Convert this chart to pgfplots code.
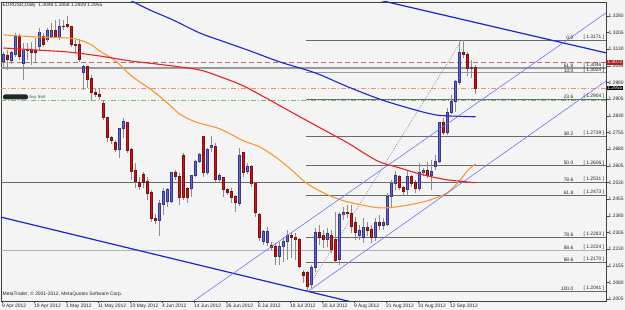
\documentclass[border=0pt]{standalone}
\usepackage{fontspec}
\setmainfont{Liberation Sans}
\usepackage{pgfplots}
\usepackage{pgfplotstable}
\pgfplotsset{compat=1.18}
\newcommand\ft{\fontsize{4.9}{5.5}\selectfont}
\definecolor{bgc}{RGB}{244,244,244}
\definecolor{bullc}{RGB}{100,100,225}
\definecolor{bullo}{RGB}{55,55,130}
\definecolor{bearc}{RGB}{230,10,10}
\definecolor{bearo}{RGB}{115,20,20}
\definecolor{wickc}{RGB}{140,140,140}
\definecolor{ma1}{RGB}{255,150,40}
\definecolor{ma2}{RGB}{235,35,35}
\definecolor{ma3}{RGB}{25,35,215}
\definecolor{chan}{RGB}{115,115,245}
\definecolor{fibc}{RGB}{105,105,105}
\definecolor{reddash}{RGB}{195,105,105}
\definecolor{orgdash}{RGB}{250,140,100}
\definecolor{grndash}{RGB}{110,190,110}
\definecolor{boxred}{RGB}{180,30,30}
\pgfplotsset{nomark/.style={only marks, mark=*, mark size=0pt, mark options={draw=none, fill=none}}}

\pgfplotstableread{
i o h l c
0 1.3073 1.3118 1.3046 1.3105
1 1.3100 1.3127 1.3037 1.3082
2 1.3078 1.3123 1.3064 1.3114
3 1.3105 1.3204 1.3096 1.3186
4 1.3186 1.3199 1.3082 1.3096
5 1.3064 1.3159 1.2992 1.3127
6 1.3127 1.3159 1.3082 1.3123
7 1.3127 1.3163 1.3060 1.3114
8 1.3127 1.3181 1.3069 1.3114
9 1.3141 1.3226 1.3127 1.3208
10 1.3186 1.3204 1.3141 1.3150
11 1.3172 1.3226 1.3163 1.3213
12 1.3186 1.3249 1.3181 1.3217
13 1.3217 1.3262 1.3181 1.3186
14 1.3181 1.3267 1.3172 1.3231
15 1.3235 1.3262 1.3217 1.3231
16 1.3240 1.3280 1.3226 1.3231
17 1.3231 1.3235 1.3141 1.3150
18 1.3150 1.3172 1.3114 1.3145
19 1.3150 1.3177 1.3073 1.3082
20 1.3024 1.3060 1.2947 1.3051
21 1.3051 1.3055 1.2956 1.2992
22 1.2997 1.3015 1.2902 1.2934
23 1.2934 1.2952 1.2916 1.2925
24 1.2925 1.2956 1.2902 1.2916
25 1.2884 1.2902 1.2812 1.2821
26 1.2821 1.2826 1.2713 1.2731
27 1.2731 1.2740 1.2704 1.2718
28 1.2709 1.2722 1.2668 1.2677
29 1.2677 1.2776 1.2641 1.2772
30 1.2772 1.2821 1.2731 1.2803
31 1.2799 1.2803 1.2664 1.2673
32 1.2677 1.2686 1.2542 1.2578
33 1.2583 1.2619 1.2506 1.2533
34 1.2529 1.2556 1.2497 1.2511
35 1.2565 1.2578 1.2506 1.2529
36 1.2533 1.2556 1.2452 1.2479
37 1.2484 1.2497 1.2353 1.2367
38 1.2367 1.2389 1.2344 1.2358
39 1.2358 1.2452 1.2290 1.2434
40 1.2430 1.2506 1.2385 1.2488
41 1.2443 1.2506 1.2421 1.2497
42 1.2443 1.2578 1.2439 1.2574
43 1.2574 1.2587 1.2542 1.2556
44 1.2556 1.2574 1.2430 1.2461
45 1.2650 1.2664 1.2452 1.2461
46 1.2502 1.2511 1.2439 1.2461
47 1.2502 1.2565 1.2466 1.2560
48 1.2560 1.2632 1.2556 1.2623
49 1.2623 1.2664 1.2619 1.2655
50 1.2736 1.2740 1.2556 1.2574
51 1.2574 1.2686 1.2565 1.2677
52 1.2686 1.2740 1.2668 1.2695
53 1.2691 1.2709 1.2533 1.2542
54 1.2542 1.2574 1.2533 1.2560
55 1.2551 1.2556 1.2466 1.2497
56 1.2497 1.2506 1.2475 1.2484
57 1.2488 1.2506 1.2439 1.2461
58 1.2466 1.2475 1.2398 1.2439
59 1.2434 1.2686 1.2425 1.2650
60 1.2664 1.2668 1.2556 1.2574
61 1.2578 1.2619 1.2569 1.2601
62 1.2601 1.2610 1.2511 1.2524
63 1.2524 1.2533 1.2376 1.2394
64 1.2385 1.2394 1.2268 1.2281
65 1.2263 1.2317 1.2250 1.2308
66 1.2259 1.2331 1.2245 1.2308
67 1.2245 1.2263 1.2227 1.2236
68 1.2241 1.2259 1.2160 1.2196
69 1.2196 1.2263 1.2160 1.2241
70 1.2241 1.2286 1.2173 1.2263
71 1.2263 1.2317 1.2182 1.2290
72 1.2290 1.2308 1.2191 1.2281
73 1.2281 1.2304 1.2182 1.2272
74 1.2272 1.2281 1.2146 1.2151
75 1.2124 1.2137 1.2079 1.2110
76 1.2124 1.2133 1.2043 1.2061
77 1.2070 1.2160 1.2056 1.2146
78 1.2146 1.2326 1.2128 1.2304
79 1.2304 1.2340 1.2250 1.2281
80 1.2290 1.2317 1.2236 1.2272
81 1.2272 1.2326 1.2241 1.2299
82 1.2290 1.2317 1.2214 1.2227
83 1.2272 1.2398 1.2169 1.2177
84 1.2182 1.2398 1.2160 1.2385
85 1.2385 1.2421 1.2362 1.2394
86 1.2394 1.2430 1.2371 1.2389
87 1.2389 1.2430 1.2304 1.2331
88 1.2349 1.2376 1.2272 1.2304
89 1.2290 1.2340 1.2272 1.2313
90 1.2281 1.2371 1.2259 1.2326
91 1.2326 1.2353 1.2290 1.2313
92 1.2317 1.2340 1.2259 1.2281
93 1.2281 1.2371 1.2268 1.2349
94 1.2349 1.2385 1.2317 1.2335
95 1.2335 1.2371 1.2317 1.2349
96 1.2340 1.2484 1.2335 1.2466
97 1.2466 1.2542 1.2421 1.2524
98 1.2524 1.2583 1.2497 1.2560
99 1.2556 1.2565 1.2497 1.2506
100 1.2506 1.2515 1.2475 1.2488
101 1.2497 1.2587 1.2475 1.2556
102 1.2556 1.2565 1.2511 1.2524
103 1.2529 1.2542 1.2484 1.2502
104 1.2502 1.2619 1.2493 1.2574
105 1.2574 1.2596 1.2560 1.2583
106 1.2583 1.2623 1.2551 1.2560
107 1.2560 1.2632 1.2497 1.2578
108 1.2601 1.2655 1.2587 1.2623
109 1.2623 1.2803 1.2619 1.2799
110 1.2799 1.2821 1.2745 1.2754
111 1.2754 1.2866 1.2745 1.2844
112 1.2844 1.2925 1.2839 1.2893
113 1.2893 1.2992 1.2848 1.2983
114 1.2979 1.3163 1.2970 1.3114
115 1.3114 1.3172 1.3091 1.3105
116 1.3105 1.3118 1.3010 1.3042
117 1.3042 1.3082 1.3001 1.3046
118 1.3046 1.3058 1.2929 1.2955
}\candles

\begin{document}
\begin{tikzpicture}
\path[use as bounding box, fill=bgc] (0pt,0pt) rectangle (625pt,310pt);
\begin{axis}[
  at={(1pt,9pt)}, anchor=south west,
  scale only axis, width=605pt, height=299pt,
  xmin=-0.625, xmax=150.625, ymin=1.19963, ymax=1.33431,
  axis line style={draw=black!75, line width=0.6pt},
  tick align=outside, major tick length=2.5pt,
  tick style={draw=black!75, line width=0.5pt},
  xtick pos=left, ytick pos=right, yticklabel pos=right,
  xtick={-0.4,7.6,15.6,23.6,31.6,39.6,47.6,55.6,63.6,71.6,79.6,87.6,95.6,103.6,111.6},
  xticklabels={9 Apr 2012,19 Apr 2012,1 May 2012,11 May 2012,23 May 2012,4 Jun 2012,14 Jun 2012,26 Jun 2012,6 Jul 2012,18 Jul 2012,30 Jul 2012,9 Aug 2012,21 Aug 2012,31 Aug 2012,12 Sep 2012},
  xticklabel style={font=\ft, anchor=north west, inner sep=0pt, text=black!85},
  ytick={1.2005,1.2080,1.2155,1.2230,1.2305,1.2380,1.2455,1.2530,1.2605,1.2680,1.2755,1.2830,1.2905,1.2980,1.3055,1.3130,1.3205,1.3280},
  yticklabels={1.2005,1.2080,1.2155,1.2230,1.2305,1.2380,1.2455,1.2530,1.2605,1.2680,1.2755,1.2830,1.2905,1.2980,1.3055,1.3130,1.3205,1.3280},
  yticklabel style={font=\ft, anchor=west, inner sep=0pt, text=black!85},
]
% horizontal full-width lines
\addplot[reddash, line width=0.7pt, dash pattern=on 5pt off 3pt] coordinates {(-0.625,1.3072) (150.625,1.3072)};
\addplot[black!40, line width=1.5pt] coordinates {(-0.625,1.3046) (150.625,1.3046)};
\addplot[orgdash, line width=0.7pt, dash pattern=on 5pt off 2pt on 1pt off 2pt] coordinates {(-0.625,1.2952) (150.625,1.2952)};
\addplot[grndash, line width=0.7pt, dash pattern=on 5pt off 2pt on 1pt off 2pt] coordinates {(-0.625,1.2902) (150.625,1.2902)};
\addplot[fibc, line width=0.7pt] coordinates {(-0.625,1.2531) (150.625,1.2531)};
\addplot[black!30, line width=1.5pt] coordinates {(-0.625,1.2224) (150.625,1.2224)};
% fibonacci rays
\addplot[black!40, line width=1.2pt] coordinates {(75.6,1.3024) (150.625,1.3024)};
\addplot[fibc, line width=0.7pt] coordinates {(75.6,1.3171) (150.625,1.3171)};
\addplot[fibc, line width=0.7pt] coordinates {(75.6,1.2904) (150.625,1.2904)};
\addplot[fibc, line width=0.7pt] coordinates {(75.6,1.2739) (150.625,1.2739)};
\addplot[fibc, line width=0.7pt] coordinates {(75.6,1.2606) (150.625,1.2606)};
\addplot[fibc, line width=0.7pt] coordinates {(75.6,1.2473) (150.625,1.2473)};
\addplot[fibc, line width=0.7pt] coordinates {(75.6,1.2283) (150.625,1.2283)};
\addplot[fibc, line width=0.7pt] coordinates {(75.6,1.2170) (150.625,1.2170)};
\addplot[fibc, line width=0.7pt] coordinates {(75.6,1.2041) (150.625,1.2041)};
\addplot[black!45, line width=0.6pt, dash pattern=on 1pt off 1.2pt] coordinates {(75.6,1.2042) (114.4,1.3167)};
% candles: wicks
\addplot[nomark, error bars/.cd, y dir=both, y explicit, error mark=none,
  error bar style={draw=wickc, line width=0.8pt}]
  table[x=i, y expr={(\thisrow{h}+\thisrow{l})/2}, y error expr={(\thisrow{h}-\thisrow{l})/2}]{\candles};
% bull bodies
\addplot[nomark, restrict expr to domain={\thisrow{c}-\thisrow{o}}{0:1},
  error bars/.cd, y dir=both, y explicit, error mark=none,
  error bar style={draw=bullo, line width=2.8pt}]
  table[x=i, y expr={(\thisrow{o}+\thisrow{c})/2}, y error expr={abs(\thisrow{c}-\thisrow{o})/2+0.00022}]{\candles};
\addplot[nomark, restrict expr to domain={\thisrow{c}-\thisrow{o}}{0:1},
  error bars/.cd, y dir=both, y explicit, error mark=none,
  error bar style={draw=bullc, line width=1.8pt}]
  table[x=i, y expr={(\thisrow{o}+\thisrow{c})/2}, y error expr={max(abs(\thisrow{c}-\thisrow{o})/2-0.00022,0)}]{\candles};
% bear bodies
\addplot[nomark, restrict expr to domain={\thisrow{o}-\thisrow{c}}{0.00001:1},
  error bars/.cd, y dir=both, y explicit, error mark=none,
  error bar style={draw=bearo, line width=2.8pt}]
  table[x=i, y expr={(\thisrow{o}+\thisrow{c})/2}, y error expr={abs(\thisrow{c}-\thisrow{o})/2+0.00022}]{\candles};
\addplot[nomark, restrict expr to domain={\thisrow{o}-\thisrow{c}}{0.00001:1},
  error bars/.cd, y dir=both, y explicit, error mark=none,
  error bar style={draw=bearc, line width=1.8pt}]
  table[x=i, y expr={(\thisrow{o}+\thisrow{c})/2}, y error expr={max(abs(\thisrow{c}-\thisrow{o})/2-0.00022,0)}]{\candles};
% moving averages
\addplot[ma1, line width=1.1pt, smooth] coordinates {(0,1.3195) (8,1.3186) (16,1.3181) (19,1.3172) (22,1.3150) (24,1.3123) (28,1.3078) (32,1.3010) (37,1.2947) (41,1.2888) (44,1.2839) (48,1.2803) (54,1.2772) (60,1.2718) (64,1.2691) (68,1.2645) (72,1.2587) (76,1.2524) (81,1.2475) (86,1.2443) (94,1.2416) (100,1.2425) (106,1.2448) (111,1.2484) (114,1.2538) (116,1.2583) (118,1.2614)};
\addplot[ma2, line width=1.1pt, smooth] coordinates {(0,1.3136) (8,1.3127) (16,1.3118) (24,1.3100) (32,1.3077) (40,1.3060) (49,1.3037) (55,1.3001) (60,1.2965) (66,1.2907) (71,1.2857) (76,1.2807) (81,1.2758) (86,1.2709) (90,1.2664) (94,1.2623) (99,1.2596) (103,1.2574) (107,1.2556) (111,1.2542) (118,1.2529)};
\addplot[ma3, line width=1.1pt, smooth] coordinates {(31,1.3357) (36.6,1.3307) (42.4,1.3262) (49,1.3204) (55,1.3165) (61.6,1.3123) (69.1,1.3073) (77.9,1.3024) (86.1,1.2961) (94.6,1.2902) (102.9,1.2857) (107.9,1.2835) (111.1,1.2830) (118,1.2826)};
% trend channels
\addplot[ma3, line width=1.2pt] coordinates {(88.35,1.3375) (150.625,1.3114)};
\addplot[ma3, line width=1.2pt] coordinates {(-0.625,1.2374) (90,1.1979)};
\addplot[chan, line width=0.6pt] coordinates {(46,1.1977) (150.625,1.3294)};
\addplot[chan, line width=0.6pt] coordinates {(75.9,1.2037) (150.625,1.2987)};
% fib labels
\foreach \lv/\pr/\tx in {1.3171/1.3171/0.0, 1.3046/1.3046/61.8, 1.3024/1.3024/13.0, 1.2904/1.2904/23.6, 1.2739/1.2739/38.2, 1.2606/1.2606/50.0, 1.2531/1.2531/78.6, 1.2473/1.2473/61.8, 1.2283/1.2283/78.6, 1.2224/1.2224/88.6, 1.2170/1.2170/88.6, 1.2041/1.2041/100.0}{
  \edef\tmp{\noexpand\node[anchor=south east, inner sep=0.4pt, font=\noexpand\ft, text=black!85] at (axis cs:142.6,\lv) {\tx};
  \noexpand\node[anchor=south east, inner sep=0.4pt, font=\noexpand\ft, text=black!85] at (axis cs:150.3,\lv) {[ \pr\ ]};}\tmp
}
\end{axis}
\node[anchor=north west, inner sep=0pt, font=\ft, text=black!85] at (2.5pt,307pt) {EURUSD,Daily\ \ 1.3046 1.3058 1.2929 1.2955};
\node[anchor=south west, inner sep=0pt, font=\ft, text=black!85] at (2.5pt,13pt) {MetaTrader, © 2001-2012, MetaQuotes Software Corp.};
\fill[black!85, rounded corners=2pt] (3pt,210.5pt) rectangle (28pt,215.5pt);
\node[anchor=base west, inner sep=0pt, font=\fontsize{4.3}{5}\selectfont, text=black!70] at (29.5pt,211pt) {buy limit};
\node[fill=boxred, text=white, font=\ft, inner sep=0.6pt, anchor=west] at (606.5pt,247.8pt) {1.3072};
\node[fill=black, text=white, font=\ft, inner sep=0.6pt, anchor=west] at (606.5pt,221.9pt) {1.2955};
\end{tikzpicture}
\end{document}
